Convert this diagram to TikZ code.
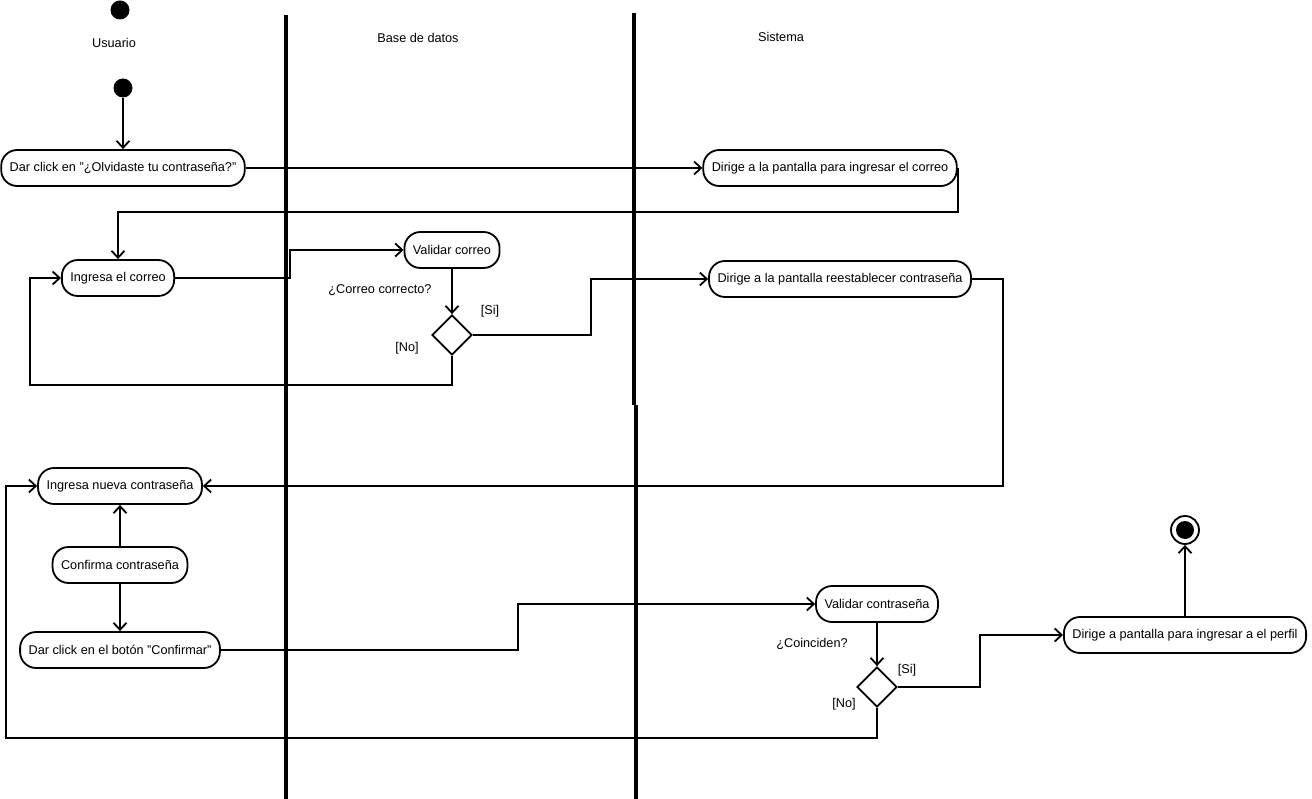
\documentclass[tikz,border=0pt]{standalone}
\usepackage{fontspec}
\setmainfont{Liberation Sans}
\usetikzlibrary{arrows.meta,shapes.geometric}
\tikzset{
  act/.style={draw, line width=1.8pt, rectangle, rounded corners=16pt,
    minimum height=36pt, inner xsep=8.5pt},
  dec/.style={draw, line width=1.8pt, diamond, minimum width=40pt,
    minimum height=40pt, inner sep=0pt},
  lane/.style={line width=4pt},
  >={Straight Barb[length=7pt,width=13pt]}
}
\begin{document}
\begin{tikzpicture}[x=1pt, y=-1pt, font=\fontsize{12.7}{15}\selectfont]
  \useasboundingbox (0,0) rectangle (1312,799);
  % lanes
  \draw[lane] (286,15) -- (286,799);
  \draw[lane] (634,13) -- (634,405);
  \draw[lane] (636,405) -- (636,799);
  \node at (114,43) {Usuario};
  \node at (418,38) {Base de datos};
  \node at (781,37) {Sistema};
  % nodes
  \node (t) [circle, fill, minimum size=19pt, inner sep=0pt] at (120,10) {};
  \node (s) [circle, fill, minimum size=19pt, inner sep=0pt] at (123,88) {};
  \node (1) [act] at (123,168) {Dar click en "¿Olvidaste tu contraseña?"};
  \node (2) [act] at (830,168) {Dirige a la pantalla para ingresar el correo};
  \node (3) [act] at (118,278) {Ingresa el correo};
  \node (4) [act] at (452,250) {Validar correo};
  \node (d1) [dec] at (452,335) {};
  \node (5) [act] at (840,279) {Dirige a la pantalla reestablecer contraseña};
  \node (6) [act] at (120,486) {Ingresa nueva contraseña};
  \node (7) [act] at (120,565) {Confirma contraseña};
  \node (8) [act] at (120,650) {Dar click en el botón "Confirmar"};
  \node (9) [act] at (877,604) {Validar contraseña};
  \node (d2) [dec] at (877,687) {};
  \node (10) [act] at (1185,635) {Dirige a pantalla para ingresar a el perfil};
  \node (e) [circle, draw, line width=1.8pt, minimum size=28pt, inner sep=0pt] at (1185,530) {};
  \fill (e) circle (9);
  % guards
  \node at (380,290) {¿Correo correcto?};
  \node at (490,311) {[Si]};
  \node at (407,348) {[No]};
  \node at (812,644) {¿Coinciden?};
  \node at (907,670) {[Si]};
  \node at (844,704) {[No]};
  \begin{scope}[->, line width=1.8pt]
    \draw (s) -- (1.north);
    \draw (1.east) -- (2.west);
    \draw (2.east) -- ++(0,44) -| (3.north);
    \draw (3.east) -- ++(115,0) |- (4.west);
    \draw (4.south) -- (d1.north);
    \draw (d1.east) -- ++(118,0) |- (5.west);
    \draw (d1.south) -- ++(0,29) -| ([xshift=-31pt]3.west) -- (3.west);
    \draw (5.east) -- ++(31,0) |- (6.east);
    \draw (7.north) -- (6.south);
    \draw (7.south) -- (8.north);
    \draw (8.east) -- ++(297,0) |- (9.west);
    \draw (9.south) -- (d2.north);
    \draw (d2.east) -- ++(82,0) |- (10.west);
    \draw (10.north) -- (e.south);
    \draw (d2.south) -- ++(0,30) -| ([xshift=-31pt]6.west) -- (6.west);
  \end{scope}
\end{tikzpicture}
\end{document}
